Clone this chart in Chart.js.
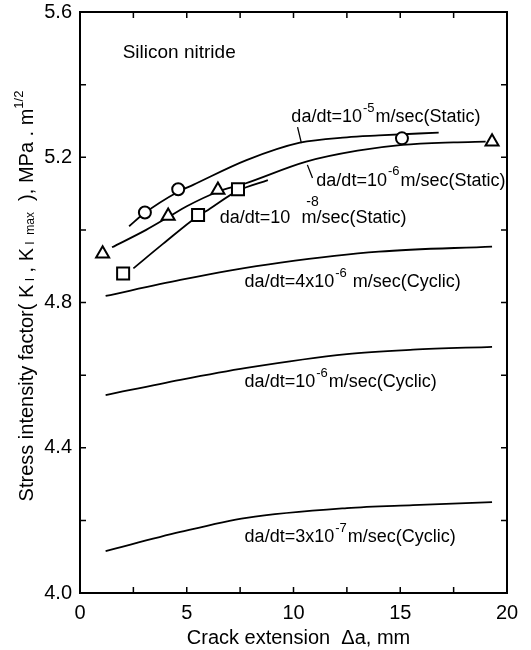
<!DOCTYPE html>
<html>
<head>
<meta charset="utf-8">
<script src="https://cdn.jsdelivr.net/npm/chart.js@4.4.1/dist/chart.umd.min.js"></script>
<style>
  body { margin: 0; background: #fff; }
  canvas { display: block; }
</style>
</head>
<body>
<canvas id="kChart" width="531" height="650"></canvas>
<script>
// curves (crack extension mm, K MPa.m^1/2)
const static5X = [2.3, 3.0, 4.6, 5.3, 7.8, 10.3, 12.5, 14.0, 16.8];
const static5Y = [5.01, 5.045, 5.105, 5.124, 5.192, 5.240, 5.255, 5.260, 5.268];
const static6X = [1.5, 3.1, 4.13, 5.0, 6.46, 7.7, 10.6, 13.0, 15.1, 17.5, 19.0];
const static6Y = [4.952, 5.0, 5.035, 5.065, 5.105, 5.127, 5.188, 5.218, 5.234, 5.241, 5.243];
const static8X = [2.5, 3.9, 5.5, 6.0, 7.4, 8.8];
const static8Y = [4.894, 4.962, 5.037, 5.055, 5.108, 5.137];
const cyc4e6X = [1.2, 4.7, 7.0, 9.4, 14.0, 19.3];
const cyc4e6Y = [4.818, 4.862, 4.888, 4.91, 4.94, 4.954];
const cyc1e6X = [1.2, 4.7, 7.8, 12.5, 15.6, 19.3];
const cyc1e6Y = [4.545, 4.587, 4.62, 4.658, 4.67, 4.678];
const cyc3e7X = [1.2, 4.7, 7.8, 12.5, 15.6, 19.3];
const cyc3e7Y = [4.115, 4.168, 4.207, 4.234, 4.242, 4.25];

// measured points
const circleX = [3.04, 4.6, 15.08];
const circleY = [5.048, 5.112, 5.252];
const triangleX = [1.06, 4.13, 6.46, 19.3];
const triangleY = [4.934, 5.038, 5.11, 5.243];
const squareX = [2.02, 5.53, 7.4];
const squareY = [4.88, 5.041, 5.112];

const xTickLabels = [0, 5, 10, 15, 20];
const yTickLabels = [4.0, 4.4, 4.8, 5.2, 5.6];

function pts(xs, ys) {
    return xs.map((x, i) => ({ x: x, y: ys[i] }));
}

const FONT = "'Liberation Sans', Arial, Helvetica, sans-serif";

function curve(xs, ys) {
    return {
        type: "line",
        data: pts(xs, ys),
        borderColor: "#000",
        borderWidth: 1.8,
        pointRadius: 0,
        fill: false,
        tension: 0.4,
        cubicInterpolationMode: "monotone",
        order: 2
    };
}

function marker(xs, ys, style, r) {
    return {
        type: "scatter",
        data: pts(xs, ys),
        pointStyle: style,
        pointRadius: r,
        pointBackgroundColor: "#fff",
        pointBorderColor: "#000",
        pointBorderWidth: 2,
        order: 0
    };
}

// label text: pieces of [text, superscript?], placed by data coords
const notes = [
    { x: 2.0, y: 5.487, parts: [["Silicon nitride", false]], size: 19 },
    { x: 9.9, y: 5.311, parts: [["da/dt=10", false], ["-5", true], ["m/sec(Static)", false]] },
    { x: 11.07, y: 5.135, parts: [["da/dt=10", false], ["-6", true], ["m/sec(Static)", false]] },
    { x: 6.54, y: 5.033, parts: [["da/dt=10", false]] },
    { x: 10.6, y: 5.077, parts: [["-8", false]], size: 14 },
    { x: 10.37, y: 5.033, parts: [["m/sec(Static)", false]] },
    { x: 7.71, y: 4.856, parts: [["da/dt=4x10", false], ["-6", true], [" m/sec(Cyclic)", false]] },
    { x: 7.71, y: 4.581, parts: [["da/dt=10", false], ["-6", true], ["m/sec(Cyclic)", false]] },
    { x: 7.71, y: 4.154, parts: [["da/dt=3x10", false], ["-7", true], ["m/sec(Cyclic)", false]] }
];
const leaders = [
    [10.19, 5.283, 10.37, 5.239],
    [10.65, 5.179, 10.89, 5.143]
];

const framePlugin = {
    id: "frame",
    afterDraw(chart) {
        const ctx = chart.ctx;
        const a = chart.chartArea;
        const xs = chart.scales.x, ys = chart.scales.y;
        ctx.save();
        ctx.strokeStyle = "#000";
        ctx.lineWidth = 2;
        ctx.strokeRect(a.left, a.top, a.right - a.left, a.bottom - a.top);
        ctx.lineWidth = 1.5;
        ctx.beginPath();
        for (let v = 2.5; v < 20; v += 2.5) {
            const px = xs.getPixelForValue(v);
            ctx.moveTo(px, a.bottom); ctx.lineTo(px, a.bottom - 6);
            ctx.moveTo(px, a.top); ctx.lineTo(px, a.top + 6);
        }
        for (let i = 1; i < 8; i++) {
            const py = ys.getPixelForValue(4 + i * 0.2);
            ctx.moveTo(a.left, py); ctx.lineTo(a.left + 6, py);
            ctx.moveTo(a.right, py); ctx.lineTo(a.right - 6, py);
        }
        ctx.stroke();

        // leader lines
        ctx.lineWidth = 1.3;
        ctx.beginPath();
        leaders.forEach(l => {
            ctx.moveTo(xs.getPixelForValue(l[0]), ys.getPixelForValue(l[1]));
            ctx.lineTo(xs.getPixelForValue(l[2]), ys.getPixelForValue(l[3]));
        });
        ctx.stroke();

        // annotations
        ctx.fillStyle = "#000";
        ctx.textBaseline = "middle";
        ctx.textAlign = "left";
        notes.forEach(n => {
            let px = xs.getPixelForValue(n.x);
            const py = ys.getPixelForValue(n.y);
            n.parts.forEach(p => {
                if (p[1]) {
                    ctx.font = "13px " + FONT;
                    ctx.fillText(p[0], px + 1, py - 9);
                    px += ctx.measureText(p[0]).width + 2;
                } else {
                    ctx.font = (n.size || 18) + "px " + FONT;
                    ctx.fillText(p[0], px, py);
                    px += ctx.measureText(p[0]).width;
                }
            });
        });

        // x axis title
        ctx.font = "20px " + FONT;
        ctx.textAlign = "center";
        ctx.fillText("Crack extension  \u0394a, mm", (a.left + a.right) / 2 + 5, 638);

        // y axis title (rotated, with sub/superscripts)
        const yParts = [
            ["Stress intensity factor( K", 20, 0],
            [" I", 12, 4],
            [" , K", 20, 0],
            [" I  max", 12, 4],
            ["  ), MPa . m", 20, 0],
            ["1/2", 13, -8]
        ];
        let total = 0;
        yParts.forEach(p => { ctx.font = p[1] + "px " + FONT; total += ctx.measureText(p[0]).width; });
        ctx.translate(27, 296);
        ctx.rotate(-Math.PI / 2);
        ctx.textAlign = "left";
        let cx = -total / 2;
        yParts.forEach(p => {
            ctx.font = p[1] + "px " + FONT;
            ctx.fillText(p[0], cx, p[2]);
            cx += ctx.measureText(p[0]).width;
        });
        ctx.restore();
    }
};

document.addEventListener("DOMContentLoaded", function() {
    const ctx = document.getElementById("kChart").getContext("2d");

    new Chart(ctx, {
        type: "scatter",
        data: {
            datasets: [
                marker(circleX, circleY, "circle", 6),
                marker(triangleX, triangleY, "triangle", 7.5),
                marker(squareX, squareY, "rect", 8.5),
                curve(static5X, static5Y),
                curve(static6X, static6Y),
                curve(static8X, static8Y),
                curve(cyc4e6X, cyc4e6Y),
                curve(cyc1e6X, cyc1e6Y),
                curve(cyc3e7X, cyc3e7Y)
            ]
        },
        options: {
            responsive: false,
            animation: false,
            layout: { padding: { top: 12, right: 24, left: 0, bottom: 0 } },
            plugins: {
                legend: { display: false },
                tooltip: { enabled: false }
            },
            scales: {
                x: {
                    type: "linear",
                    min: 0,
                    max: 20,
                    afterFit: s => { s.height = 57; s.paddingLeft = 0; s.paddingRight = 0; },
                    afterBuildTicks: s => { s.ticks = xTickLabels.map(v => ({ value: v })); },
                    grid: { display: false, drawTicks: false },
                    border: { display: false },
                    ticks: {
                        padding: 8,
                        color: "#000",
                        font: { family: FONT, size: 20 },
                        callback: v => String(v)
                    }
                },
                y: {
                    type: "linear",
                    min: 4.0,
                    max: 5.6,
                    afterFit: s => { s.width = 80; s.paddingTop = 0; s.paddingBottom = 0; },
                    afterBuildTicks: s => { s.ticks = yTickLabels.map(v => ({ value: v })); },
                    grid: { display: false, drawTicks: false },
                    border: { display: false },
                    ticks: {
                        padding: 8,
                        color: "#000",
                        font: { family: FONT, size: 20 },
                        callback: v => Number(v).toFixed(1)
                    }
                }
            }
        },
        plugins: [framePlugin]
    });
});
</script>
</body>
</html>
